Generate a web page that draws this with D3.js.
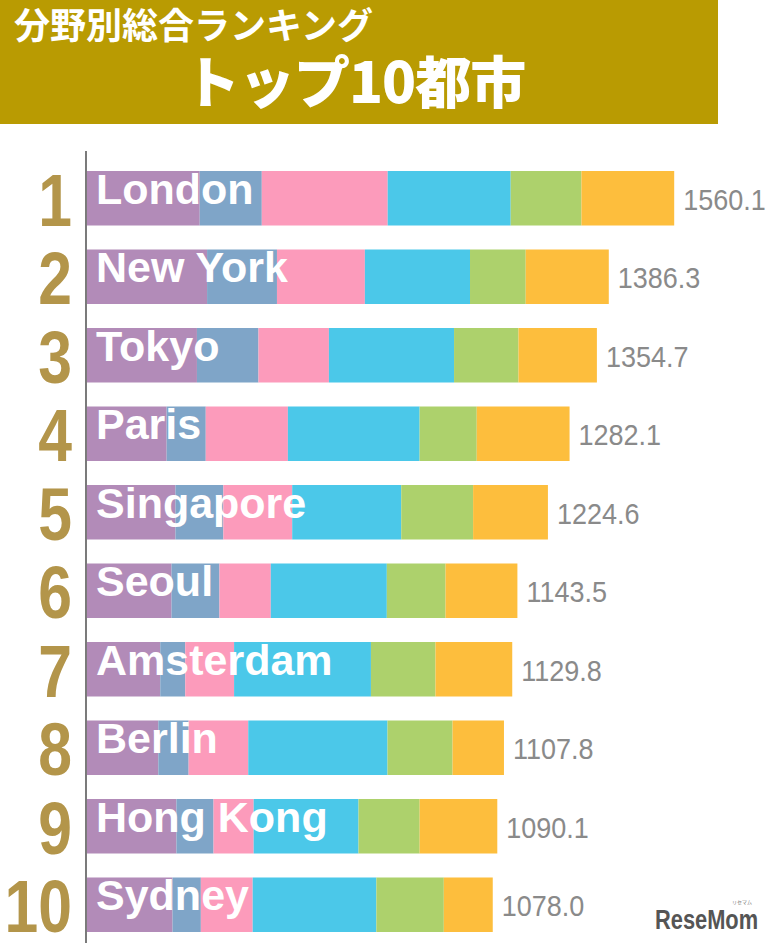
<!DOCTYPE html>
<html><head><meta charset="utf-8">
<script src="https://cdn.jsdelivr.net/npm/d3@7"></script>
<style>
html,body{margin:0;padding:0;background:#fff;}
svg{display:block;}
</style></head>
<body>
<div id="chart"></div>
<script>
const cities = ["London","New York","Tokyo","Paris","Singapore","Seoul","Amsterdam","Berlin","Hong Kong","Sydney"];
const ranks = ["1","2","3","4","5","6","7","8","9","10"];
const series = ["経済","研究・開発","文化・交流","居住","環境","交通・アクセス"];
const economy       = [299.5, 319.0, 292.1, 211.6, 235.0, 224.6, 194.6, 189.5, 237.6, 227.3];
const research      = [164.9, 185.7, 163.5, 103.9, 127.3, 127.3,  66.5,  80.5,  98.6,  75.2];
const culture       = [334.5, 233.6, 187.1, 218.2, 182.9, 136.4, 129.7, 158.4, 106.6, 137.7];
const livability    = [326.8, 279.3, 332.5, 350.0, 289.7, 308.3, 363.6, 370.0, 278.6, 328.6];
const environment   = [188.0, 148.0, 171.2, 151.8, 190.9, 156.0, 171.5, 172.8, 162.4, 179.2];
const accessibility = [246.4, 220.7, 208.3, 246.6, 198.8, 190.9, 203.9, 136.6, 206.3, 130.0];
const totals = ["1560.1","1386.3","1354.7","1282.1","1224.6","1143.5","1129.8","1107.8","1090.1","1078.0"];
const colors = ["#b28bb8","#7fa5c8","#fc9bbb","#4bc8e9","#add16c","#fdbe3d"];

const W = 766, H = 943;
const svg = d3.select("#chart").append("svg").attr("width", W).attr("height", H);

// header
svg.append("rect").attr("x",0).attr("y",0).attr("width",718).attr("height",124).attr("fill","#b99b02");
svg.append("text").attr("x",14).attr("y",39)
  .attr("font-family","'Noto Sans CJK JP'").attr("font-weight",700).attr("font-size",36)
  .attr("fill","#fff").text("分野別総合ランキング");
svg.append("text").attr("x",184).attr("y",103)
  .attr("font-family","'Noto Sans CJK JP'").attr("font-weight",900).attr("font-size",56)
  .attr("fill","#fff").attr("letter-spacing",-1).text("トップ10都市");

const table = cities.map((c,i)=>({city:c, rank:ranks[i], total:totals[i],
  "経済":economy[i],"研究・開発":research[i],"文化・交流":culture[i],
  "居住":livability[i],"環境":environment[i],"交通・アクセス":accessibility[i]}));

const stack = d3.stack().keys(series)(table);

const x = d3.scaleLinear().domain([0, 1560.1]).range([87, 674.2]);
const y = d3.scaleBand().domain(cities).range([171, 932]).paddingInner(0.3057).paddingOuter(0);
const color = d3.scaleOrdinal().domain(series).range(colors);

const g = svg.append("g");
g.selectAll("g.layer").data(stack).join("g").attr("class","layer")
  .attr("fill", d=>color(d.key))
  .selectAll("rect").data(d=>d).join("rect")
  .attr("x", d=>x(d[0]))
  .attr("width", d=>x(d[1])-x(d[0]))
  .attr("y", d=>y(d.data.city))
  .attr("height", y.bandwidth());

// axis line
svg.append("line").attr("x1",86).attr("x2",86).attr("y1",151).attr("y2",943)
  .attr("stroke","#333").attr("stroke-width",1.3);

// city names
svg.selectAll("text.city").data(table).join("text").attr("class","city")
  .attr("x",96).attr("y",d=>y(d.city)+33)
  .attr("font-family","'Liberation Sans', Arial, sans-serif").attr("font-weight",700)
  .attr("font-size",43).attr("fill","#fff").text(d=>d.city);

// rank numbers
svg.selectAll("text.rank").data(table).join("text").attr("class","rank")
  .attr("transform",d=>`translate(72,${y(d.city)+y.bandwidth()}) scale(0.82,1)`)
  .attr("text-anchor","end")
  .attr("font-family","'Liberation Sans', Arial, sans-serif").attr("font-weight",700)
  .attr("font-size",74).attr("fill","#b3954a").text(d=>d.rank);

// totals
svg.selectAll("text.total").data(table).join("text").attr("class","total")
  .attr("transform",d=>`translate(${x(+d.total)+9},${y(d.city)+39}) scale(0.9,1)`)
  .attr("font-family","'Liberation Sans', Arial, sans-serif")
  .attr("font-size",30).attr("fill","#8a8a8a").text(d=>d.total);

// watermark
svg.append("text").attr("transform","translate(655,929) scale(0.78,1)")
  .attr("font-family","'Liberation Sans', Arial, sans-serif").attr("font-weight",700)
  .attr("font-size",28).attr("fill","#555").text("ReseMom");
svg.append("text").attr("x",742).attr("y",904).attr("text-anchor","middle")
  .attr("font-family","'Noto Sans CJK JP'").attr("font-size",5).attr("fill","#777").text("リセマム");
</script>
</body></html>
